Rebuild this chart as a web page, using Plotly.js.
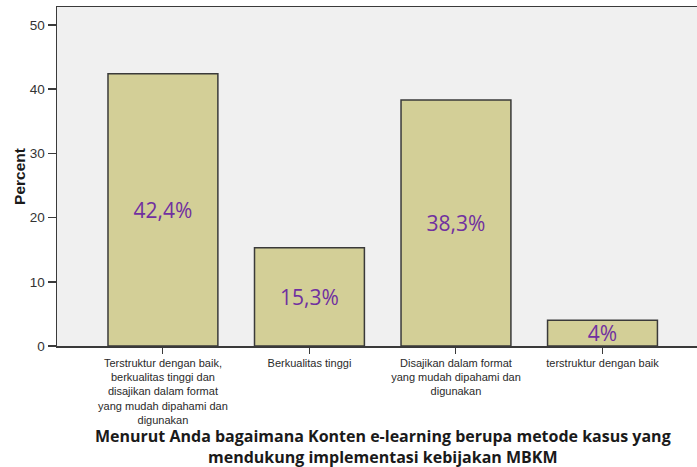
<!DOCTYPE html>
<html>
<head>
<meta charset="utf-8">
<script src="https://cdn.plot.ly/plotly-3.0.1.min.js"></script>
<style>html,body{margin:0;padding:0;overflow:hidden;background:#fff;}</style>
</head>
<body>
<div id="chart" style="width:697px;height:467px;"></div>
<script>
const categories = [
  "Terstruktur dengan baik,<br>berkualitas tinggi dan<br>disajikan dalam format<br>yang mudah dipahami dan<br>digunakan",
  "Berkualitas tinggi",
  "Disajikan dalam format<br>yang mudah dipahami dan<br>digunakan",
  "terstruktur dengan baik"
];
const percents = [42.4, 15.3, 38.3, 4.0];
const barLabels = ["42,4%", "15,3%", "38,3%", "4%"];
const yTicks = [0, 10, 20, 30, 40, 50];
const xTitleLines = [
  "Menurut Anda bagaimana Konten e-learning berupa metode kasus yang",
  "mendukung implementasi kebijakan MBKM"
];
const yTitle = "Percent";

const trace = {
  type: "bar",
  x: categories,
  y: percents,
  width: 0.75,
  text: barLabels,
  textposition: "inside",
  insidetextanchor: "middle",
  constraintext: "none",
  textangle: 0,
  textfont: {family: "Open Sans, Noto Sans, sans-serif", size: 21, color: "#7030A0"},
  marker: {color: "#D3CF97", line: {color: "#3a3a3a", width: 1.5}},
  hoverinfo: "skip",
  cliponaxis: false
};

const titleFont = {family: "Open Sans, Noto Sans, sans-serif", size: 16, color: "#1a1a1a", weight: "bold"};

const layout = {
  width: 697,
  height: 467,
  margin: {l: 57, r: 0, t: 7, b: 121, pad: 0},
  paper_bgcolor: "#ffffff",
  plot_bgcolor: "#F0F0F0",
  showlegend: false,
  bargap: 0.25,
  xaxis: {
    type: "category",
    range: [-0.723, 3.645],
    showgrid: false,
    zeroline: false,
    showline: true,
    linecolor: "#3a3a3a",
    linewidth: 1.5,
    mirror: true,
    ticks: "outside",
    ticklen: 6,
    tickwidth: 1,
    tickcolor: "#3a3a3a",
    tickfont: {family: "Liberation Sans, Arial, sans-serif", size: 11, color: "#2a2a2a"},
    tickangle: 0,
    automargin: false
  },
  yaxis: {
    range: [0, 52.8],
    tickvals: yTicks,
    showgrid: false,
    zeroline: false,
    showline: true,
    linecolor: "#3a3a3a",
    linewidth: 1.5,
    ticks: "outside",
    ticklen: 8,
    tickwidth: 1.5,
    tickcolor: "#3a3a3a",
    tickfont: {family: "Liberation Sans, Arial, sans-serif", size: 13.5, color: "#333333"},
    automargin: false,
    title: {
      text: yTitle,
      font: {family: "Liberation Sans, Arial, sans-serif", size: 15.5, color: "#1a1a1a", weight: "bold"},
      standoff: 0
    }
  },
  annotations: [
    {text: xTitleLines[0], xref: "paper", yref: "paper", x: 0.509, y: -0.2655,
     xanchor: "center", yanchor: "middle", showarrow: false, font: titleFont},
    {text: xTitleLines[1], xref: "paper", yref: "paper", x: 0.509, y: -0.3275,
     xanchor: "center", yanchor: "middle", showarrow: false, font: titleFont}
  ]
};

Plotly.newPlot("chart", [trace], layout, {displayModeBar: false, staticPlot: true});
</script>
</body>
</html>
